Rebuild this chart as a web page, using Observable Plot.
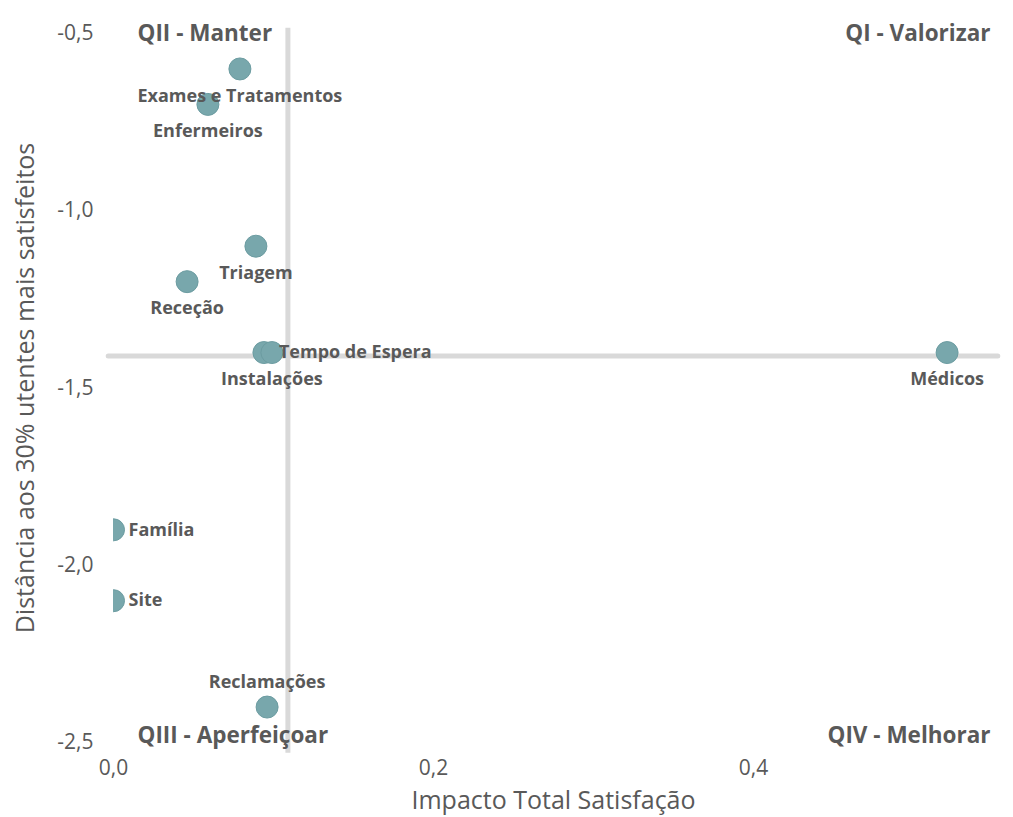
<!DOCTYPE html>
<html><head><meta charset="utf-8">
<script src="https://cdn.jsdelivr.net/npm/d3@7"></script>
<script src="https://cdn.jsdelivr.net/npm/@observablehq/plot@0.6"></script>
<style>
body{margin:0;background:#fff}
#chart svg{display:block;background:#f6f6f6;box-shadow:inset 10px 4px 0 0 #fff}
</style>
</head><body><div id="chart"></div>
<script>
// Data
const categories = ["Exames e Tratamentos","Enfermeiros","Triagem","Receção","Tempo de Espera","Instalações","Médicos","Família","Site","Reclamações"];
const impacto    = [0.079, 0.059, 0.089, 0.046, 0.094, 0.099, 0.521, 0.0, 0.0, 0.096];
const distancia  = [-0.60, -0.70, -1.10, -1.20, -1.40, -1.40, -1.40, -1.90, -2.10, -2.40];
const xTicks = [0, 0.2, 0.4];
const yTicks = [-0.5, -1.0, -1.5, -2.0, -2.5];
const quadrantX = 0.109;   // vertical divider (impacto)
const quadrantY = -1.41;   // horizontal divider (distância)
const quadrantNames = ["QII - Manter","QI - Valorizar","QIII - Aperfeiçoar","QIV - Melhorar"];
const xTitle = "Impacto Total Satisfação";
const yTitle = "Distância aos 30% utentes mais satisfeitos";

const data = categories.map((c,i)=>({name:c, x:impacto[i], y:distancia[i]}));
const rightLabeled = new Set(["Tempo de Espera","Família","Site"]);
const aboveLabeled = new Set(["Reclamações"]);
const fmt = v => d3.format(".1f")(v).replace(".", ",").replace("−","-");

const grey = "#595959";
const font = "'Open Sans', sans-serif";

const chart = Plot.plot({
  width: 1013,
  height: 817,
  marginLeft: 113,
  marginRight: 20,
  marginTop: 33,
  marginBottom: 75,
  style: {fontFamily: font, background: "transparent"},
  x: {domain: [0, 0.55]},
  y: {domain: [-2.5, -0.5]},
  marks: [
    Plot.axisX({ticks: xTicks, tickSize: 0, tickPadding: 18, tickFormat: fmt, fontSize: 21, fill: grey, label: null}),
    Plot.axisY({ticks: yTicks, tickSize: 0, tickPadding: 20, tickFormat: fmt, fontSize: 21, fill: grey, label: null}),
    Plot.ruleX([quadrantX], {y1: -0.485, y2: -2.53, stroke: "#d9d9d9", strokeWidth: 5}),
    Plot.ruleY([quadrantY], {x1: -0.003, x2: 0.553, stroke: "#d9d9d9", strokeWidth: 5, strokeLinecap: "round"}),
    Plot.dot(data, {x: "x", y: "y", r: 11, fill: "#78a7ac", stroke: "#6c9ca1", strokeWidth: 1, clip: true}),
    Plot.text(data.filter(d => !rightLabeled.has(d.name) && !aboveLabeled.has(d.name)), {x: "x", y: "y", text: "name", dy: 27, fontSize: 18, fontWeight: "bold", fill: grey}),
    Plot.text(data.filter(d => rightLabeled.has(d.name)), {x: "x", y: "y", text: "name", dx: 15, textAnchor: "start", fontSize: 18, fontWeight: "bold", fill: grey}),
    Plot.text(data.filter(d => aboveLabeled.has(d.name)), {x: "x", y: "y", text: "name", dy: -25, fontSize: 18, fontWeight: "bold", fill: grey}),
    Plot.text([quadrantNames[0]], {frameAnchor: "top-left", dx: 24, dy: -8, lineAnchor: "top", textAnchor: "start", fontSize: 22.5, fontWeight: "bold", fill: grey}),
    Plot.text([quadrantNames[1]], {frameAnchor: "top-right", dx: -3, dy: -8, lineAnchor: "top", textAnchor: "end", fontSize: 22.5, fontWeight: "bold", fill: grey}),
    Plot.text([quadrantNames[2]], {frameAnchor: "bottom-left", dx: 24, dy: 0, lineAnchor: "bottom", textAnchor: "start", fontSize: 22.5, fontWeight: "bold", fill: grey}),
    Plot.text([quadrantNames[3]], {frameAnchor: "bottom-right", dx: -3, dy: 0, lineAnchor: "bottom", textAnchor: "end", fontSize: 22.5, fontWeight: "bold", fill: grey}),
    Plot.text([xTitle], {frameAnchor: "bottom", dy: 58, lineAnchor: "middle", textAnchor: "middle", fontSize: 25, fill: grey}),
    Plot.text([yTitle], {frameAnchor: "left", dx: -88, rotate: -90, lineAnchor: "middle", textAnchor: "middle", fontSize: 25, fill: grey})
  ]
});
document.getElementById("chart").append(chart);
</script>
</body></html>
